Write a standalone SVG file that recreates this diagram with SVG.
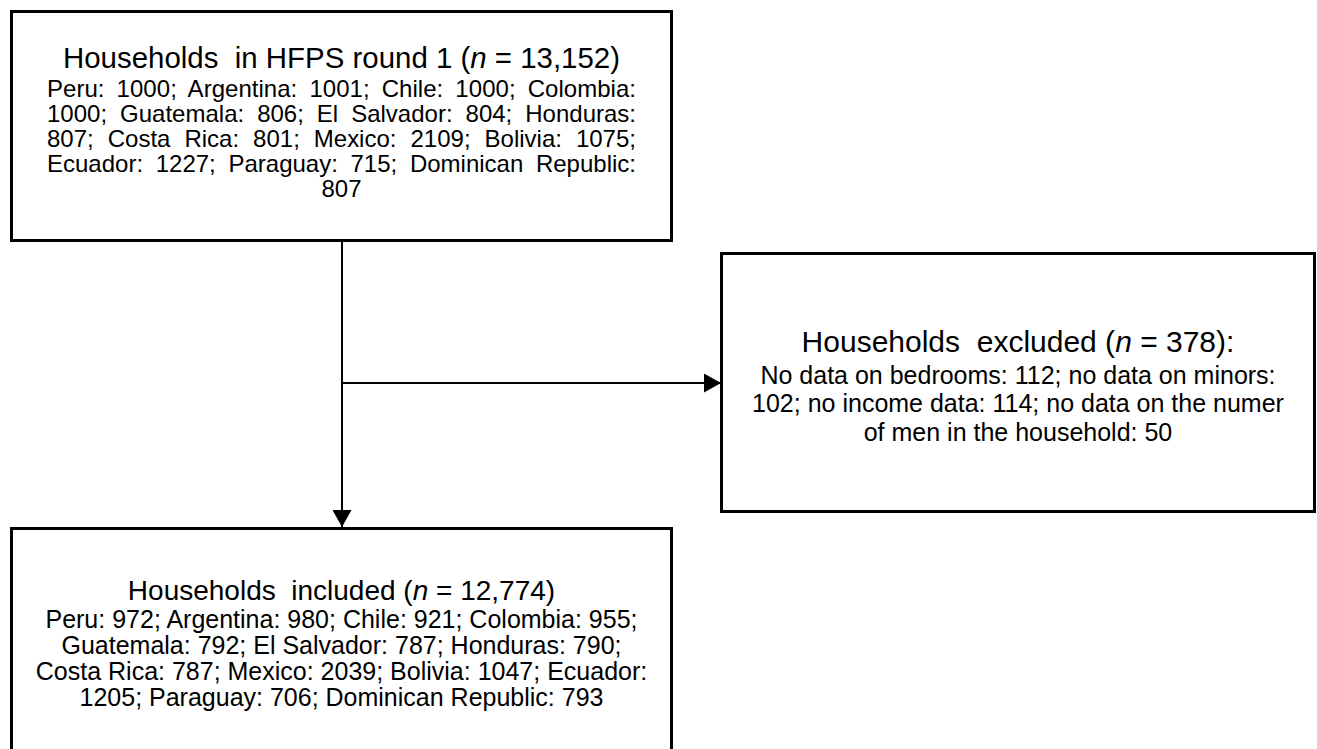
<svg xmlns="http://www.w3.org/2000/svg" width="1317" height="749" viewBox="0 0 1317 749">
<style>
.box{fill:#fff;stroke:#000;stroke-width:3}
.t{font-family:"Liberation Sans",Arial,sans-serif;fill:#000}
.mid{text-anchor:middle}
.ti1{font-size:29px}
.ti2{font-size:30px}
.ti3{font-size:28px}
.b1{font-size:24px}
.b2{font-size:25px}
.conn{fill:none;stroke:#000;stroke-width:2}
</style>
<defs>
<marker id="arr" viewBox="0 0 17 19" refX="17" refY="9.5" markerWidth="17" markerHeight="19" markerUnits="userSpaceOnUse" orient="auto">
<path d="M0,0 L17,9.5 L0,19 z" fill="#000"/>
</marker>
</defs>
<rect width="1317" height="749" fill="#fff"/>
<g id="connectors">
<path class="conn" d="M342,241 L342,527" marker-end="url(#arr)"/>
<path class="conn" d="M342,383 L721,383" marker-end="url(#arr)"/>
</g>
<g id="node-hfps">
<rect class="box" x="11.5" y="11.5" width="660" height="229"/>
<text class="t ti1" x="63" y="68" textLength="557" lengthAdjust="spacingAndGlyphs">Households&#160; in HFPS round 1 (<tspan font-style="italic">n</tspan> = 13,152)</text>
<text class="t b1" x="47" y="97" word-spacing="5.4" textLength="589" lengthAdjust="spacing">Peru: 1000; Argentina: 1001; Chile: 1000; Colombia:</text>
<text class="t b1" x="47" y="122" word-spacing="6.3" textLength="589" lengthAdjust="spacing">1000; Guatemala: 806; El Salvador: 804; Honduras:</text>
<text class="t b1" x="47" y="147" word-spacing="7.3" textLength="589" lengthAdjust="spacing">807; Costa Rica: 801; Mexico: 2109; Bolivia: 1075;</text>
<text class="t b1" x="47" y="172" word-spacing="6" textLength="589" lengthAdjust="spacing">Ecuador: 1227; Paraguay: 715; Dominican Republic:</text>
<text class="t b1 mid" x="341.5" y="197">807</text>
</g>
<g id="node-excluded">
<rect class="box" x="721.5" y="253.5" width="593" height="258"/>
<text class="t ti2 mid" x="1018" y="352">Households&#160; excluded (<tspan font-style="italic">n</tspan> = 378):</text>
<text class="t b2 mid" x="1018" y="384">No data on bedrooms: 112; no data on minors:</text>
<text class="t b2 mid" x="1018" y="412">102; no income data: 114; no data on the numer</text>
<text class="t b2 mid" x="1018" y="441">of men in the household: 50</text>
</g>
<g id="node-included">
<rect class="box" x="11.5" y="528.5" width="660" height="240"/>
<text class="t ti3 mid" x="341.5" y="600">Households&#160; included (<tspan font-style="italic">n</tspan> = 12,774)</text>
<text class="t b2 mid" x="341.5" y="628">Peru: 972; Argentina: 980; Chile: 921; Colombia: 955;</text>
<text class="t b2 mid" x="341.5" y="654">Guatemala: 792; El Salvador: 787; Honduras: 790;</text>
<text class="t b2 mid" x="341.5" y="680">Costa Rica: 787; Mexico: 2039; Bolivia: 1047; Ecuador:</text>
<text class="t b2 mid" x="341.5" y="706">1205; Paraguay: 706; Dominican Republic: 793</text>
</g>
</svg>
